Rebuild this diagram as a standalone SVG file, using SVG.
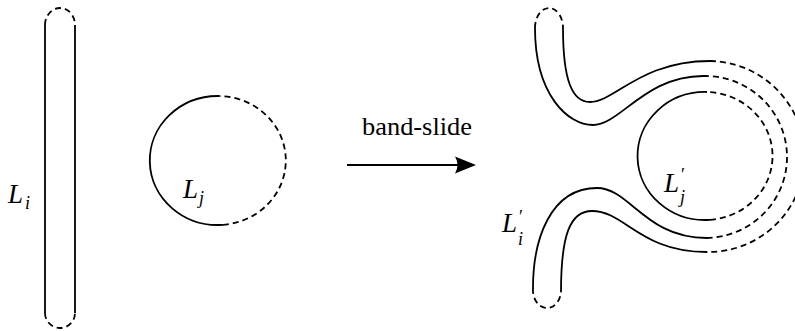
<svg xmlns="http://www.w3.org/2000/svg" width="795" height="331" viewBox="0 0 795 331">
<style>
.s{fill:none;stroke:#000;stroke-width:1.8;stroke-linecap:butt}
.d{fill:none;stroke:#000;stroke-width:1.8;stroke-dasharray:6 4}
.t{fill:#000;font-family:'Liberation Serif','DejaVu Serif',serif}
.it{font-style:italic}
</style>
<rect width="795" height="331" fill="#fff"/>
<g id="band-Li">
<path class="s" d="M45,25 V313 M75,25 V313"/>
<path class="d" d="M45,25 A15,17 0 0 1 75,25 M45,313 A15,15 0 0 0 75,313"/>
<text class="t it" x="8" y="203" font-size="27">L<tspan x="25" y="209" font-size="18">i</tspan></text>
</g>
<g id="circle-Lj">
<path class="s" d="M219.4,96 A68,64.5 0 1 0 222.9,224.8"/>
<path class="d" d="M222.9,224.8 A68,64.5 0 0 0 219.4,96"/>
<text class="t it" x="183" y="198" font-size="27">L<tspan x="199" y="204" font-size="18">j</tspan></text>
</g>
<g id="connectors">
<path class="s" d="M347,165 H462"/>
<path d="M476,165 L455,156.5 Q460,165 455,173.5 Z" fill="#000"/>
<text class="t" x="362" y="135" font-size="25" textLength="110" lengthAdjust="spacingAndGlyphs">band-slide</text>
</g>
<g id="band-Li-prime">
<path class="s" d="M563,28 C563,80 572,102 590,102 C615,102 640,61 710,61"/>
<path class="s" d="M535,28 C535,95 568,125 593,125 C620,125 645,76 703,76"/>
<path class="d" d="M535,28 A14,20 0 0 1 563,28"/>
<path class="s" d="M707,238 C645,238 630,188 597,188 C550,188 533,240 533,288"/>
<path class="s" d="M707,252 C640,252 625,211 592,211 C570,211 561,235 561,292"/>
<path class="d" d="M533,288 A14,18 0 0 0 561,292"/>
<path class="d" d="M703,76 A82,81 0 0 1 707,238"/>
<path class="d" d="M710,61 A96,95.5 0 0 1 707,252"/>
<text class="t it" x="502" y="232" font-size="27">L</text>
<text class="t" x="519" y="223" font-size="18">′</text>
<text class="t it" x="518" y="245" font-size="18">i</text>
</g>
<g id="circle-Lj-prime">
<path class="s" d="M707,92 A67.5,64 0 1 0 710,219.8"/>
<path class="d" d="M710,219.8 A67.5,64 0 0 0 707,92"/>
<text class="t it" x="664" y="192" font-size="27">L</text>
<text class="t" x="681" y="181" font-size="18">′</text>
<text class="t it" x="680" y="203" font-size="18">j</text>
</g>
</svg>
